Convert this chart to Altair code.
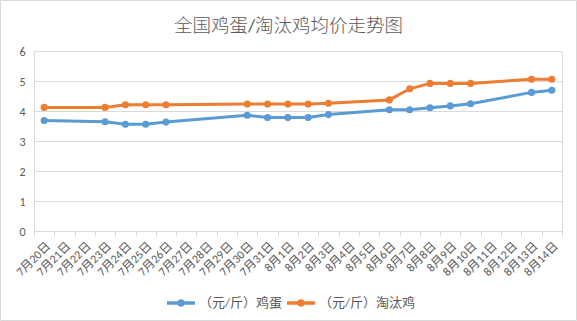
import altair as alt
import pandas as pd

# all category labels on the x axis
all_dates = ["7月20日", "7月21日", "7月22日", "7月23日", "7月24日", "7月25日", "7月26日",
             "7月27日", "7月28日", "7月29日", "7月30日", "7月31日", "8月1日", "8月2日",
             "8月3日", "8月4日", "8月5日", "8月6日", "8月7日", "8月8日", "8月9日",
             "8月10日", "8月11日", "8月12日", "8月13日", "8月14日"]

# dates with observations
obs_dates = ["7月20日", "7月23日", "7月24日", "7月25日", "7月26日", "7月30日", "7月31日",
             "8月1日", "8月2日", "8月3日", "8月6日", "8月7日", "8月8日", "8月9日",
             "8月10日", "8月13日", "8月14日"]

egg = [3.68, 3.64, 3.56, 3.56, 3.63, 3.86, 3.78, 3.78, 3.78, 3.88, 4.04, 4.04,
       4.11, 4.17, 4.24, 4.62, 4.69]
culled_hen = [4.12, 4.12, 4.21, 4.21, 4.21, 4.23, 4.23, 4.23, 4.23, 4.26, 4.37, 4.74,
              4.92, 4.92, 4.92, 5.06, 5.06]

series_names = ["（元/斤）鸡蛋", "（元/斤）淘汰鸡"]
colors = ["#5B9BD5", "#ED7D31"]
y_ticks = [0, 1, 2, 3, 4, 5, 6]

rows = []
for i, d in enumerate(obs_dates):
    rows.append({"date": d, "idx": i, "series": series_names[0], "price": egg[i]})
    rows.append({"date": d, "idx": i, "series": series_names[1], "price": culled_hen[i]})
df = pd.DataFrame(rows)

FONT = "Calibri, Liberation Sans, Noto Sans CJK SC"
TXT = "#595959"
GRID = "#d9d9d9"

x_enc = alt.X("date:O", scale=alt.Scale(domain=all_dates, paddingInner=0, paddingOuter=0),
              sort=all_dates,
              axis=alt.Axis(title=None, labelAngle=315, tickBand="extent", grid=False,
                            domainColor=GRID, tickColor=GRID, tickSize=5,
                            labelColor=TXT, labelFontSize=12, labelFont=FONT,
                            labelPadding=4, labelOverlap=False))
y_enc = alt.Y("price:Q", scale=alt.Scale(domain=[0, 6], nice=False),
              axis=alt.Axis(title=None, values=y_ticks, domain=False, ticks=False,
                            gridColor=GRID, labelColor=TXT, labelFontSize=12,
                            labelFont=FONT, labelPadding=9))

sym = ("M-1,-0.12L1,-0.12L1,0.12L-1,0.12Z "
       "M0.27,0A0.27,0.27 0 1,1 -0.27,0A0.27,0.27 0 1,1 0.27,0Z")
legend = alt.Legend(title=None, orient="none", direction="horizontal",
                    legendX=133, legendY=238,
                    symbolType=sym, symbolSize=784,
                    symbolStrokeWidth=0, symbolOpacity=1,
                    labelFont=FONT, labelFontSize=13,
                    labelColor=TXT, labelOffset=4, columnPadding=4)
color_enc = alt.Color("series:N", scale=alt.Scale(domain=series_names, range=colors),
                      legend=legend)

base = alt.Chart(df)

lines = base.mark_line(strokeWidth=3).encode(
    x=x_enc, y=y_enc, color=color_enc, order=alt.Order("idx:Q"),
)

points = base.mark_point(filled=True, size=50, opacity=1).encode(
    x=x_enc, y=y_enc, color=color_enc,
)

border = alt.Chart(pd.DataFrame({"a": [0]})).mark_rect(
    fill=None, stroke=GRID, strokeWidth=1
).encode(
    x=alt.value(-33.5), x2=alt.value(542.5), y=alt.value(-50.5), y2=alt.value(269.5)
)

chart = alt.layer(border, lines, points).properties(
    width=528, height=180,
    title=alt.TitleParams("全国鸡蛋/淘汰鸡均价走势图", font=FONT, fontSize=18.5,
                          fontWeight=300, color=TXT, anchor="middle",
                          baseline="bottom", dx=-9.5, offset=-54),
    autosize=alt.AutoSizeParams(type="none"),
    padding={"left": 34, "top": 51, "right": 15, "bottom": 90},
).configure_view(stroke=None).configure(background="white")

chart.save("out.html", embed_options={"renderer": "svg", "actions": False})
